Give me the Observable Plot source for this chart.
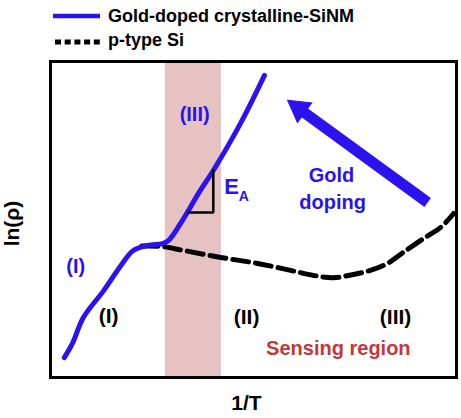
<!DOCTYPE html>
<html>
<head>
<meta charset="utf-8">
<script src="https://cdn.jsdelivr.net/npm/d3@7"></script>
<script src="https://cdn.jsdelivr.net/npm/@observablehq/plot@0.6"></script>
<style>
  body { margin: 0; background: #fff; font-family: "Liberation Sans", Arial, sans-serif; }
  #legend { width: 461px; height: 52px; display: block; }
</style>
</head>
<body>
<div id="chart"></div>
<script>
// ---- Data (schematic, arbitrary units 0..100) ----
const legendLabels = ["Gold-doped crystalline-SiNM", "p-type Si"];

const goldX = [3.4, 5.4, 8.1, 13.1, 17.7, 20.4, 23.9, 27.6, 29.1, 32.0, 36.9, 40.1, 46.8, 52.7];
const goldY = [6.3, 10.8, 19.0, 27.5, 36.1, 40.2, 41.8, 42.4, 43.4, 48.7, 59.2, 65.5, 80.4, 95.6];

const pX = [22.5, 27.1, 32.8, 41.9, 51.0, 59.1, 64.8, 69.7, 74.6, 78.8, 83.0, 86.9, 91.9, 96.1, 99.3];
const pY = [41.6, 41.5, 40.2, 38.0, 36.1, 33.9, 32.3, 31.6, 32.6, 33.9, 36.1, 39.6, 44.0, 47.5, 51.9];

const bandX = [28.3, 42.1];            // sensing region
const slopeX = [34.0, 40.1, 40.1];     // E_A slope marker
const slopeY = [52.2, 52.2, 65.5];
const arrowTail = [92.9, 55.4];
const arrowTip = [58.4, 87.7];

const blueLabels = ["(III)", "(I)", "Gold", "doping"];
const blueLabelX = [35.5, 6.2, 69.2, 69.5];
const blueLabelY = [83.2, 35.1, 63.9, 55.4];
const blackLabels = ["(I)", "(II)", "(III)"];
const blackLabelX = [14.3, 48.3, 85.0];
const blackLabelY = [19.3, 19.0, 19.0];
const sensingLabel = "Sensing region";
const sensingPos = [70.9, 9.2];
const eaMain = "E", eaSub = "A";
const eaPos = [44.6, 60.4], eaSubPos = [47.6, 57.3];
const xLabel = "1/T", yLabel = "ln(ρ)";

// ---- Styles ----
const BLUE = "#2b12ee", RED = "#c0393b", PINK = "#e7c2c2";
const FONT = "Liberation Sans, Arial, sans-serif";
const W = 461, H = 366;
const mL = 50, mR = 5, mT = 9, mB = 41;

// ---- Legend (above the chart) ----
const leg = d3.create("svg").attr("id", "legend").attr("width", W).attr("height", 52)
  .style("font-family", FONT).style("font-weight", "bold");
leg.append("line").attr("x1", 53).attr("x2", 100).attr("y1", 16).attr("y2", 16)
  .attr("stroke", BLUE).attr("stroke-width", 4.5);
leg.append("text").attr("x", 108).attr("y", 22).attr("font-size", 18).text(legendLabels[0]);
leg.append("line").attr("x1", 55).attr("x2", 100).attr("y1", 42).attr("y2", 42)
  .attr("stroke", "#000").attr("stroke-width", 5).attr("stroke-dasharray", "6,3.7");
leg.append("text").attr("x", 108).attr("y", 46).attr("font-size", 18).text(legendLabels[1]);
document.getElementById("chart").appendChild(leg.node());

// ---- Arrow geometry in pixels (for head orientation) ----
const sx = d3.scaleLinear([0, 100], [mL, W - mR]);
const sy = d3.scaleLinear([0, 100], [H - mB, mT]);
const tpx = [sx(arrowTail[0]), sy(arrowTail[1])], hpx = [sx(arrowTip[0]), sy(arrowTip[1])];
const vx = hpx[0] - tpx[0], vy = hpx[1] - tpx[1], vl = Math.hypot(vx, vy);
const headR = 9, headOff = 2 * Math.sqrt(Math.PI * headR * headR / (3 * Math.sqrt(3)));
const headC = [sx.invert(hpx[0] - vx / vl * headOff), sy.invert(hpx[1] - vy / vl * headOff)];
const headRot = Math.atan2(vx, -vy) * 180 / Math.PI;

const gold = goldX.map((x, i) => ({x, y: goldY[i]}));
const ptype = pX.map((x, i) => ({x, y: pY[i]}));
const slope = slopeX.map((x, i) => ({x, y: slopeY[i]}));

const chart = Plot.plot({
  width: W, height: H,
  marginLeft: mL, marginRight: mR, marginTop: mT, marginBottom: mB,
  x: {domain: [0, 100], axis: null},
  y: {domain: [0, 100], axis: null},
  style: {fontFamily: FONT, background: "white"},
  marks: [
    Plot.rectX([bandX], {x1: d => d[0], x2: d => d[1], y1: 0, y2: 100, fill: PINK}),
    Plot.line(ptype, {x: "x", y: "y", curve: "catmull-rom", stroke: "#000", strokeWidth: 5, strokeDasharray: "16,7"}),
    Plot.line(gold, {x: "x", y: "y", curve: "catmull-rom", stroke: BLUE, strokeWidth: 5, strokeLinecap: "round"}),
    Plot.line(slope, {x: "x", y: "y", stroke: "#000", strokeWidth: 2.5, strokeLinejoin: "miter"}),
    Plot.link([[arrowTail, headC]], {x1: d => d[0][0], y1: d => d[0][1], x2: d => d[1][0], y2: d => d[1][1], stroke: BLUE, strokeWidth: 11}),
    Plot.dot([headC], {x: d => d[0], y: d => d[1], symbol: "triangle", r: headR, fill: BLUE, stroke: BLUE, strokeWidth: 1, rotate: headRot}),
    Plot.text(blueLabels, {x: (d, i) => blueLabelX[i], y: (d, i) => blueLabelY[i], text: d => d, fill: BLUE, fontSize: 20, fontWeight: "bold"}),
    Plot.text(blackLabels, {x: (d, i) => blackLabelX[i], y: (d, i) => blackLabelY[i], text: d => d, fill: "#000", fontSize: 21, fontWeight: "bold"}),
    Plot.text([sensingLabel], {x: sensingPos[0], y: sensingPos[1], text: d => d, fill: RED, fontSize: 20, fontWeight: "bold"}),
    Plot.text([eaMain], {x: eaPos[0], y: eaPos[1], text: d => d, fill: BLUE, fontSize: 22, fontWeight: "bold"}),
    Plot.text([eaSub], {x: eaSubPos[0], y: eaSubPos[1], text: d => d, fill: BLUE, fontSize: 14, fontWeight: "bold"}),
    Plot.text([yLabel], {frameAnchor: "left", dx: -38, dy: 4, rotate: -90, textAnchor: "middle", lineAnchor: "middle", text: d => d, fill: "#000", fontSize: 21, fontWeight: "bold"}),
    Plot.text([xLabel], {frameAnchor: "bottom", dx: -7, dy: 26, textAnchor: "middle", lineAnchor: "middle", text: d => d, fill: "#000", fontSize: 21, fontWeight: "bold"}),
    Plot.frame({stroke: "#000", strokeWidth: 3})
  ]
});
document.getElementById("chart").appendChild(chart);
</script>
</body>
</html>
